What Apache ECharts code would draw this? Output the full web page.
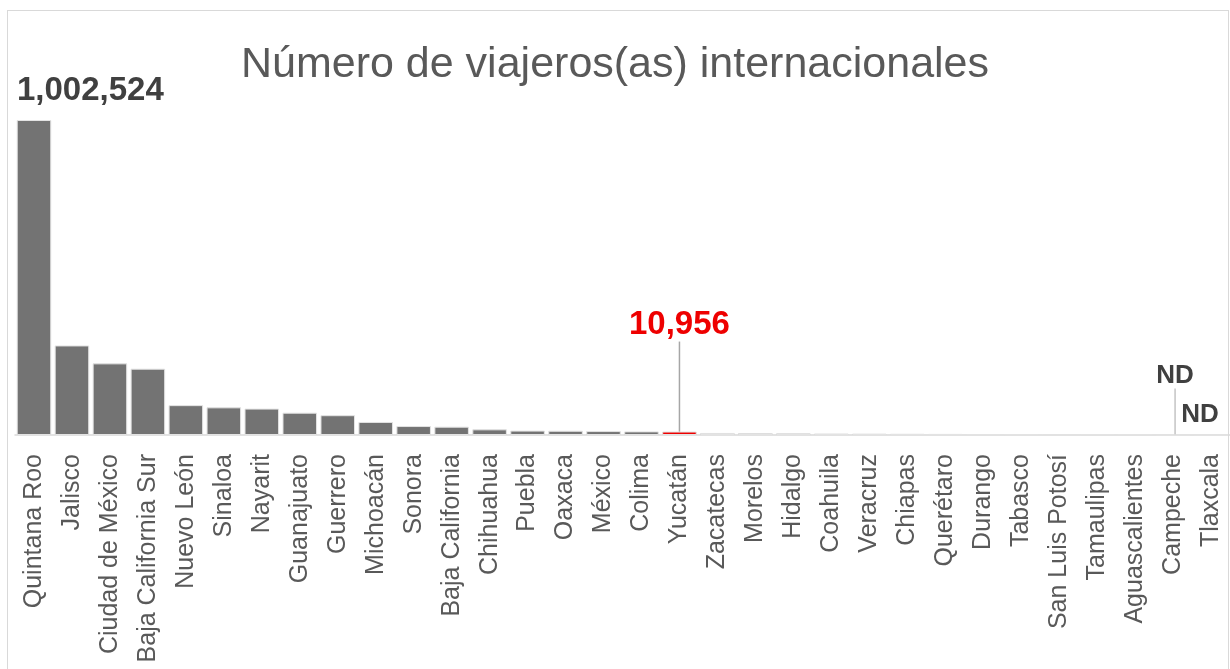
<!DOCTYPE html>
<html>
<head>
<meta charset="utf-8">
<script src="https://cdn.jsdelivr.net/npm/echarts@6/dist/echarts.min.js"></script>
<style>
  html, body { margin: 0; padding: 0; background: #fff; overflow: hidden; }
  #chart { width: 1230px; height: 669px; }
  #frame {
    position: absolute; left: 7px; top: 10px; width: 1220px; height: 700px;
    border: 1.5px solid #d9d9d9; pointer-events: none;
  }
</style>
</head>
<body>
<div id="chart"></div>
<div id="frame"></div>
<script>
// estados ordenados de mayor a menor
const estados = [
  'Quintana Roo', 'Jalisco', 'Ciudad de México', 'Baja California Sur', 'Nuevo León',
  'Sinaloa', 'Nayarit', 'Guanajuato', 'Guerrero', 'Michoacán', 'Sonora',
  'Baja California', 'Chihuahua', 'Puebla', 'Oaxaca', 'México', 'Colima',
  'Yucatán', 'Zacatecas', 'Morelos', 'Hidalgo', 'Coahuila', 'Veracruz',
  'Chiapas', 'Querétaro', 'Durango', 'Tabasco', 'San Luis Potosí',
  'Tamaulipas', 'Aguascalientes', 'Campeche', 'Tlaxcala'
];

// viajeros internacionales (null = ND)
const viajeros = [
  1002524, 285000, 228000, 211000, 95000,
  88000, 84000, 71000, 63000, 41500, 28500,
  26500, 18000, 14000, 13500, 12500, 11500,
  10956, 6500, 6000, 5500, 5000, 4500,
  4000, 3500, 3000, 2500, 2000,
  1500, 800, null, null
];

const destacado = 'Yucatán';

const chart = echarts.init(document.getElementById('chart'));

const dataBarras = viajeros.map((v, i) => {
  const item = { value: v === null ? 0 : v };
  if (v === null) {
    item.label = {
      show: true,
      formatter: 'ND',
      color: '#404040',
      fontSize: 26,
      fontWeight: 'bold'
    };
    item.labelLine = { show: i === estados.length - 2, lineStyle: { color: '#a6a6a6', width: 1 } };
  }
  if (estados[i] === destacado) {
    item.itemStyle = { color: '#ee0000' };
    item.label = {
      show: true,
      color: '#ee0000',
      fontSize: 33,
      fontWeight: 'bold',
      formatter: (p) => p.value.toLocaleString('en-US')
    };
    item.labelLine = { show: true, lineStyle: { color: '#a6a6a6', width: 1.5 } };
  }
  if (i === 0) {
    item.label = {
      show: true,
      color: '#404040',
      fontSize: 33,
      fontWeight: 'bold',
      distance: 13,
      align: 'left',
      formatter: (p) => p.value.toLocaleString('en-US')
    };
  }
  return item;
});

const option = {
  backgroundColor: '#ffffff',
  animation: false,
  title: {
    text: 'Número de viajeros(as) internacionales',
    left: 'center',
    top: 39,
    textStyle: {
      color: '#595959',
      fontSize: 43,
      fontWeight: 'normal',
      fontFamily: 'Liberation Sans'
    }
  },
  grid: {
    left: 15,
    width: 1216,
    top: 120,
    bottom: 234
  },
  xAxis: {
    type: 'category',
    data: estados,
    axisTick: { show: false },
    axisLine: { lineStyle: { color: '#d9d9d9', width: 1.5 } },
    axisLabel: {
      interval: 0,
      rotate: 90,
      color: '#595959',
      fontSize: 25,
      fontFamily: 'Liberation Sans',
      margin: 19
    }
  },
  yAxis: {
    type: 'value',
    min: 0,
    max: 1002524,
    show: false
  },
  series: [{
    type: 'bar',
    data: dataBarras,
    barCategoryGap: '9%',
    itemStyle: {
      color: '#737373',
      borderColor: '#e3e3e3',
      borderWidth: 1
    },
    label: {
      show: false,
      position: 'top',
      fontFamily: 'Liberation Sans'
    },
    labelLayout: function (params) {
      const idx = params.dataIndex;
      if (idx === 0) {
        return { dx: -17 };
      }
      if (estados[idx] === destacado) {
        return { dy: -85 };
      }
      if (idx === estados.length - 2) {
        return { dx: 2, dy: -41 };
      }
      if (idx === estados.length - 1) {
        return { dx: -11, dy: -2 };
      }
      return {};
    }
  }]
};

chart.setOption(option);
</script>
</body>
</html>
